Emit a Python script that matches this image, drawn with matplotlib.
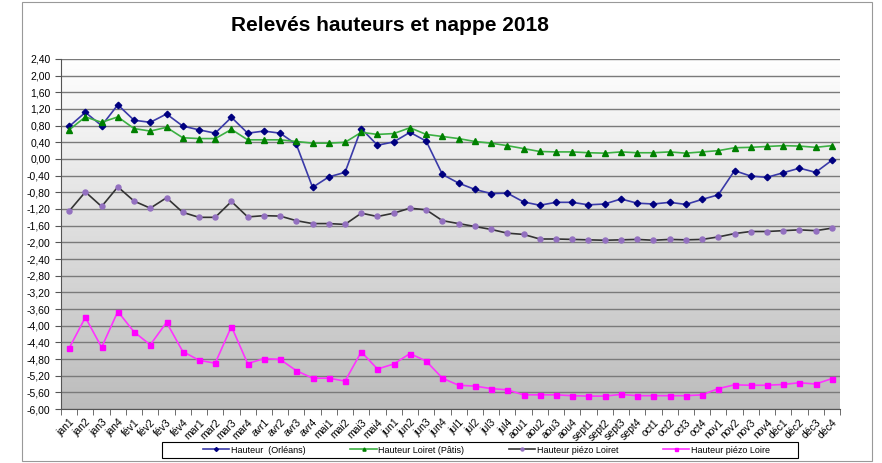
import numpy as np
import matplotlib
matplotlib.use("Agg")
import matplotlib.pyplot as plt
from matplotlib.patches import Rectangle
from matplotlib.ticker import FuncFormatter, MultipleLocator

plt.rcParams['font.family'] = ['Liberation Sans', 'DejaVu Sans']

semaines = ['jan1', 'jan2', 'jan3', 'jan4', 'fév1', 'fév2', 'fév3', 'fév4',
            'mar1', 'mar2', 'mar3', 'mar4', 'avr1', 'avr2', 'avr3', 'avr4',
            'mai1', 'mai2', 'mai3', 'mai4', 'jun1', 'jun2', 'jun3', 'jun4',
            'jul1', 'jul2', 'jul3', 'jul4', 'aou1', 'aou2', 'aou3', 'aou4',
            'sept1', 'sept2', 'sept3', 'sept4', 'oct1', 'oct2', 'oct3', 'oct4',
            'nov1', 'nov2', 'nov3', 'nov4', 'déc1', 'déc2', 'déc3', 'déc4']

hauteur_orleans = [0.78, 1.12, 0.80, 1.30, 0.93, 0.88, 1.08, 0.79,
                   0.70, 0.62, 1.00, 0.62, 0.67, 0.62, 0.35, -0.68,
                   -0.43, -0.32, 0.73, 0.33, 0.41, 0.64, 0.43, -0.37,
                   -0.58, -0.73, -0.83, -0.82, -1.03, -1.11, -1.04, -1.04,
                   -1.10, -1.08, -0.96, -1.06, -1.08, -1.04, -1.09, -0.97,
                   -0.86, -0.28, -0.41, -0.44, -0.33, -0.22, -0.32, -0.03]

hauteur_loiret = [0.70, 1.01, 0.88, 1.01, 0.73, 0.67, 0.76, 0.51,
                  0.49, 0.49, 0.71, 0.46, 0.46, 0.46, 0.42, 0.38,
                  0.38, 0.40, 0.64, 0.59, 0.61, 0.75, 0.59, 0.54,
                  0.49, 0.42, 0.38, 0.32, 0.25, 0.18, 0.17, 0.17,
                  0.15, 0.14, 0.17, 0.15, 0.15, 0.17, 0.14, 0.17,
                  0.20, 0.27, 0.28, 0.30, 0.32, 0.31, 0.28, 0.32]

piezo_loiret = [-1.25, -0.79, -1.14, -0.67, -1.01, -1.18, -0.93, -1.28,
                -1.40, -1.40, -1.02, -1.39, -1.36, -1.37, -1.48, -1.55,
                -1.55, -1.57, -1.30, -1.38, -1.30, -1.18, -1.22, -1.48,
                -1.55, -1.62, -1.69, -1.78, -1.81, -1.92, -1.92, -1.93,
                -1.94, -1.95, -1.94, -1.93, -1.95, -1.93, -1.94, -1.93,
                -1.87, -1.79, -1.74, -1.74, -1.72, -1.70, -1.72, -1.66]

piezo_loire = [-4.54, -3.80, -4.52, -3.66, -4.15, -4.46, -3.92, -4.62,
               -4.83, -4.90, -4.02, -4.91, -4.79, -4.81, -5.08, -5.26,
               -5.26, -5.33, -4.63, -5.04, -4.92, -4.67, -4.85, -5.26,
               -5.43, -5.45, -5.51, -5.54, -5.66, -5.66, -5.66, -5.68,
               -5.69, -5.69, -5.65, -5.68, -5.68, -5.68, -5.68, -5.66,
               -5.51, -5.42, -5.43, -5.43, -5.41, -5.37, -5.40, -5.27]

fig = plt.figure(figsize=(8.82, 4.63), dpi=100)
ax = fig.add_axes([0.0692, 0.1166, 0.8832, 0.756])

# fond en dégradé blanc -> gris
grad = np.linspace(0, 1, 256).reshape(-1, 1)
ax.imshow(grad, extent=(-0.5, 47.5, -6.0, 2.4), aspect='auto', origin='upper',
          cmap=matplotlib.colors.LinearSegmentedColormap.from_list('g', ['#ffffff', '#bcbcbc']),
          zorder=0)

x = np.arange(len(semaines))
ax.plot(x, hauteur_orleans, color='#3a3aa8', lw=1.2, marker='D', ms=3.3,
        mfc='#000080', mec='#000080', label='Hauteur  (Orléans)', zorder=3)
ax.plot(x, hauteur_loiret, color='#3cb043', lw=1.2, marker='^', ms=3.8,
        mfc='#008000', mec='#008000', label='Hauteur Loiret (Pâtis)', zorder=3)
ax.plot(x, piezo_loiret, color='#333333', lw=1.2, marker='o', ms=3.6,
        mfc='#9370c0', mec='#9370c0', label='Hauteur piézo Loiret', zorder=3)
ax.plot(x, piezo_loire, color='#ff33ff', lw=1.2, marker='s', ms=3.6,
        mfc='#ff00ff', mec='#ff00ff', label='Hauteur piézo Loire', zorder=3)

ax.set_xlim(-0.5, 47.5)
ax.set_ylim(-6.0, 2.4)
ax.yaxis.set_major_locator(MultipleLocator(0.4))
ax.yaxis.set_major_formatter(FuncFormatter(lambda v, p: f"{v:.2f}".replace('.', ',')))
ax.grid(axis='y', color='#7a7a7a', lw=1.0, zorder=1)
ax.set_axisbelow(True)

ax.set_xticks(x)
ax.set_xticklabels(semaines, rotation=45, ha='right', rotation_mode='anchor', fontsize=7.5)
ax.set_xticks(np.arange(-0.5, 48, 1), minor=True)
ax.tick_params(axis='x', which='major', length=0, pad=6)
ax.tick_params(axis='x', which='minor', length=4, color='#555555')
ax.tick_params(axis='y', labelsize=7.5, length=4, color='#555555')

for side in ['top', 'right']:
    ax.spines[side].set_visible(False)
ax.spines['left'].set_color('#555555')
ax.spines['bottom'].set_color('#555555')

fig.text(0.442, 0.946, 'Relevés hauteurs et nappe 2018', ha='center', va='center',
         fontsize=15, fontweight='bold')

leg = fig.legend(loc='center', bbox_to_anchor=(0.5516, 0.028), ncol=4, fontsize=6.5,
                 frameon=False, handlelength=2.9, handletextpad=0.15,
                 columnspacing=5.0, markerscale=0.6)

# cadre de la légende et cadre du graphique
fig.patches.append(Rectangle((162 / 882, 1 - 458 / 463), 636 / 882, 16 / 463,
                             transform=fig.transFigure, fill=False,
                             edgecolor='#000000', lw=0.8))
fig.patches.append(Rectangle((22 / 882, 0.005), 850 / 882, 0.99, transform=fig.transFigure,
                             fill=False, edgecolor='#999999', lw=0.8))

fig.savefig('out.png', dpi=100)
